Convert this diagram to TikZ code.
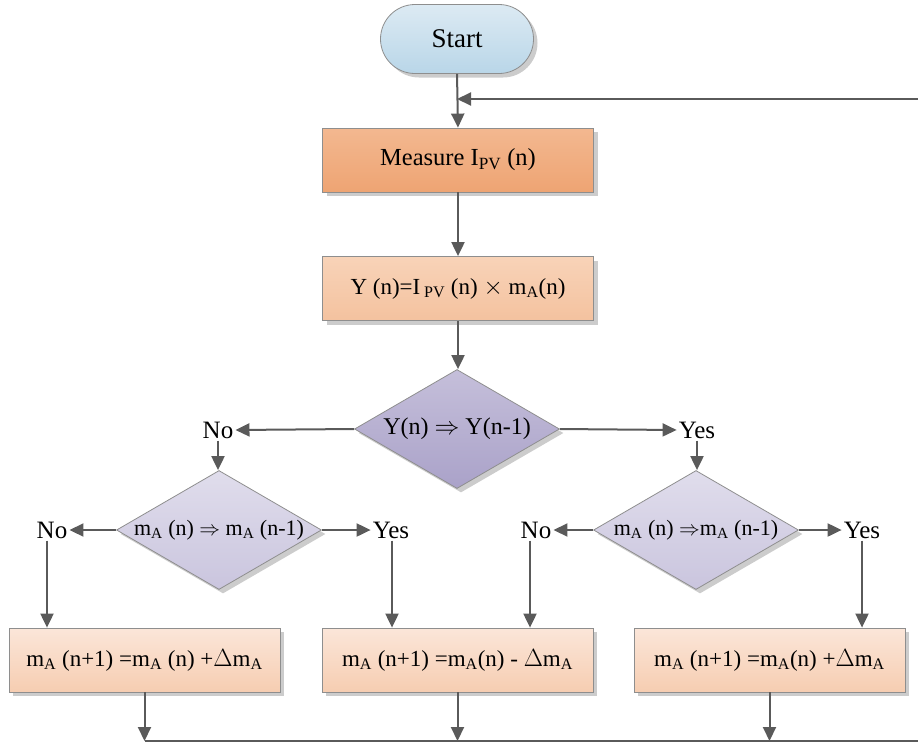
\documentclass[tikz,border=0pt]{standalone}
\usepackage{fontspec}
\setmainfont{Liberation Serif}
\usetikzlibrary{arrows.meta,shapes.geometric,shapes.misc,shadows}
\definecolor{lc}{HTML}{5A5A5A}
\definecolor{bd}{HTML}{8E8E8E}
\definecolor{stT}{HTML}{DCEAF3}
\definecolor{stB}{HTML}{B9D6E8}
\definecolor{msT}{HTML}{F3B890}
\definecolor{msB}{HTML}{EEA473}
\definecolor{yT}{HTML}{F8D3B8}
\definecolor{yB}{HTML}{F4C29F}
\definecolor{bT}{HTML}{FBE6D9}
\definecolor{bB}{HTML}{F6CDB1}
\definecolor{d1T}{HTML}{C5BFDA}
\definecolor{d1B}{HTML}{AAA2C9}
\definecolor{d2T}{HTML}{E0DDEC}
\definecolor{d2B}{HTML}{CAC5DE}
\tikzset{
  arr/.style={draw=lc, line width=2pt, -{Triangle[length=14pt,width=13pt]}},
  wire/.style={draw=lc, line width=2pt},
  shad/.style={drop shadow={shadow xshift=4pt, shadow yshift=-4pt, fill=black!20, opacity=1}},
  box/.style={shad, draw=bd, line width=0.8pt, minimum width=271pt, minimum height=64pt, inner sep=0pt},
  dia/.style={diamond, shad, draw=bd, line width=0.8pt, minimum width=205pt, minimum height=119pt, inner sep=0pt},
  lbl/.style={inner sep=2pt, text height=17pt, text depth=0pt, font=\fontsize{25}{29}\selectfont},
  dtext/.style={font=\fontsize{22}{26}\selectfont},
}
\begin{document}
\begin{tikzpicture}[x=1pt,y=-1pt,font=\fontsize{23}{27}\selectfont]
\useasboundingbox (0,0) rectangle (918,742);
% start
\node[rounded rectangle, shad, draw=bd, line width=0.8pt, minimum width=153pt, minimum height=69pt, inner sep=0pt, top color=stT, bottom color=stB, font=\fontsize{27}{31}\selectfont] (start) at (457,39) {Start};
% boxes
\node[box, top color=msT, bottom color=msB, font=\fontsize{24.5}{29}\selectfont] (meas) at (458,160) {Measure I\textsubscript{PV} (n)};
\node[box, top color=yT, bottom color=yB] (ycalc) at (458,288.5) {Y (n)=I\,\textsubscript{PV} (n) $\times$ m\textsubscript{A}(n)};
% diamonds
\node[dia, top color=d1T, bottom color=d1B] (d1) at (457,429) {};
\node[font=\fontsize{24}{28}\selectfont] (d1t) at (d1) {Y(n) $\Rightarrow$ Y(n-1)};
\node[dia, top color=d2T, bottom color=d2B] (d2) at (219,530) {};
\node[dtext] (d2t) at (d2) {m\textsubscript{A} (n) $\Rightarrow$ m\textsubscript{A} (n-1)};
\node[dia, top color=d2T, bottom color=d2B] (d3) at (696,530) {};
\node[dtext] (d3t) at (d3) {m\textsubscript{A} (n) $\Rightarrow$m\textsubscript{A} (n-1)};
% labels
\node[lbl] (no1) at (218,430) {No};
\node[lbl] (yes1) at (697,430) {Yes};
\node[lbl] (no2) at (52,530) {No};
\node[lbl] (yes2) at (391,530) {Yes};
\node[lbl] (no3) at (536,530) {No};
\node[lbl] (yes3) at (862,530) {Yes};
% bottom boxes
\node[box, top color=bT, bottom color=bB] (b1) at (144.5,660) {m\textsubscript{A} (n+1) =m\textsubscript{A} (n) +$\Delta$m\textsubscript{A}};
\node[box, top color=bT, bottom color=bB] (b2) at (457.5,660) {m\textsubscript{A} (n+1) =m\textsubscript{A}(n) - $\Delta$m\textsubscript{A}};
\node[box, top color=bT, bottom color=bB] (b3) at (769.5,660) {m\textsubscript{A} (n+1) =m\textsubscript{A}(n) +$\Delta$m\textsubscript{A}};
% coordinates at the picture's right edge
\coordinate (fbR) at (918,99);
\coordinate (botR) at (918,741);
% connectors
\draw[arr] (start.south) -- (meas.north);
\draw[arr] (fbR) -- (fbR -| start.south);
\draw[arr] (meas.south) -- (ycalc.north);
\draw[arr] (ycalc.south) -- (ycalc.south |- d1.north);
\draw[arr] (d1.west) -- (no1.east);
\draw[arr] (d1.east) -- (yes1.west);
\draw[arr] (no1.south) -- (no1.south |- d2.north);
\draw[arr] (yes1.south) -- (yes1.south |- d3.north);
\draw[arr] (d2.west) -- (no2.east);
\draw[arr] (d2.east) -- (yes2.west);
\draw[arr] (d3.west) -- (no3.east);
\draw[arr] (d3.east) -- (yes3.west);
\draw[arr] ([xshift=-5pt]no2.south) -- ([xshift=-5pt]no2.south |- b1.north);
\draw[arr] ([xshift=1pt]yes2.south) -- ([xshift=1pt]yes2.south |- b2.north);
\draw[arr] ([xshift=-6pt]no3.south) -- ([xshift=-6pt]no3.south |- b2.north);
\draw[arr] (yes3.south) -- (yes3.south |- b3.north);
\draw[wire] (b1.south |- botR) -- (botR);
\draw[arr] (b1.south) -- (b1.south |- botR);
\draw[arr] (b2.south) -- (b2.south |- botR);
\draw[arr] (b3.south) -- (b3.south |- botR);
\end{tikzpicture}
\end{document}
